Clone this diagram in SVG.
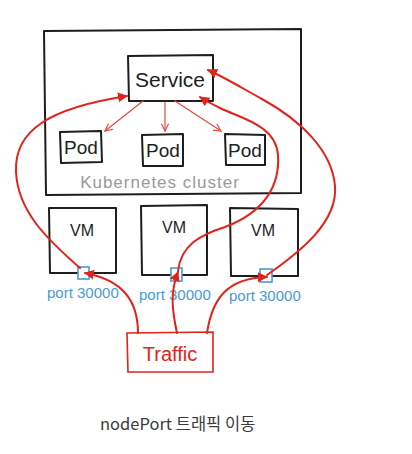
<svg xmlns="http://www.w3.org/2000/svg" width="412" height="454" viewBox="0 0 412 454">
<style>
.box{fill:none;stroke:#1e1e1e;stroke-width:2;stroke-linejoin:round}
.lbl{font-family:"Liberation Sans","DejaVu Sans",sans-serif;fill:#1e1e1e;text-anchor:middle}
.port{fill:#fff;stroke:#4a9ad8;stroke-width:1.6}
.ptxt{font-family:"Liberation Sans","DejaVu Sans",sans-serif;font-size:15px;fill:#4a9ad8}
.flow{fill:none;stroke:#e2231a;stroke-width:2;stroke-linecap:round}
.fan{fill:none;stroke:#e8473d;stroke-width:1.2;stroke-linecap:round}
</style>
<defs>
<marker id="ah" viewBox="0 0 10 10" refX="9" refY="5" markerWidth="10" markerHeight="10" markerUnits="userSpaceOnUse" orient="auto">
<path d="M0,0 L10,5 L0,10 z" fill="#e2231a"/>
</marker>
<marker id="ao" viewBox="0 0 10 10" refX="9" refY="5" markerWidth="9" markerHeight="9" markerUnits="userSpaceOnUse" orient="auto">
<path d="M1,1 L9,5 L1,9" fill="none" stroke="#e8473d" stroke-width="1.3"/>
</marker>
</defs>
<rect width="412" height="454" fill="#fff"/>
<g id="cluster">
<path class="box" d="M44,31 L301,29 L301,193 L46,195 Z"/>
<text x="160" y="188" font-family="Liberation Sans, DejaVu Sans, sans-serif" font-size="17" letter-spacing="1" fill="#9a9a9a" text-anchor="middle">Kubernetes cluster</text>
</g>
<g id="service">
<path class="box" d="M128,56 L213,55 L213,101 L129,101 Z"/>
<text class="lbl" x="170" y="87" font-size="21">Service</text>
</g>
<g id="pod1">
<path class="box" d="M60,132 L101,131 L102,162 L61,163 Z"/>
<text class="lbl" x="81" y="154" font-size="19">Pod</text>
</g>
<g id="pod2">
<path class="box" d="M142,135 L183,134 L183,166 L143,166 Z"/>
<text class="lbl" x="163" y="157" font-size="19">Pod</text>
</g>
<g id="pod3">
<path class="box" d="M225,134 L265,135 L265,165 L226,165 Z"/>
<text class="lbl" x="245" y="157" font-size="19">Pod</text>
</g>
<g id="vm1">
<path class="box" d="M49,208 L116,208 L116,273 L50,273 Z"/>
<text class="lbl" x="82" y="236" font-size="16">VM</text>
<rect class="port" x="78" y="267" width="11" height="12"/>
<text class="ptxt" x="47" y="298">port 30000</text>
</g>
<g id="vm2">
<path class="box" d="M141,206 L207,205 L207,275 L142,275 Z"/>
<text class="lbl" x="174" y="233" font-size="16">VM</text>
<rect class="port" x="171" y="268" width="11" height="13"/>
<text class="ptxt" x="139" y="300">port 30000</text>
</g>
<g id="vm3">
<path class="box" d="M230,208 L298,209 L298,276 L231,276 Z"/>
<text class="lbl" x="263" y="236" font-size="16">VM</text>
<rect class="port" x="260" y="269" width="12" height="13"/>
<text class="ptxt" x="229" y="301">port 30000</text>
</g>
<g id="traffic">
<path d="M127,333 L213,332 L213,372 L128,372 Z" fill="none" stroke="#e2231a" stroke-width="1.6"/>
<text x="170" y="361" font-family="Liberation Sans, DejaVu Sans, sans-serif" font-size="20" fill="#e2231a" text-anchor="middle">Traffic</text>
</g>
<g id="connectors">
<path class="fan" d="M143,101 L105,131" marker-end="url(#ao)"/>
<path class="fan" d="M165,102 L165,131" marker-end="url(#ao)"/>
<path class="fan" d="M175,101 L221,131" marker-end="url(#ao)"/>
<path class="flow" d="M138,333 C138,300 122,280 85,273" marker-end="url(#ah)"/>
<path class="flow" d="M177,333 C172,310 170,292 178,272" marker-end="url(#ah)"/>
<path class="flow" d="M207,333 C212,300 226,278 267,277" marker-end="url(#ah)"/>
<path class="flow" d="M80,268 C48,240 18,212 16,172 C14,130 50,108 127,96" marker-end="url(#ah)"/>
<path class="flow" d="M178,271 C181,245 200,235 225,227 C265,212 280,185 278,155 C276,125 240,118 220,108 C212,104 206,101 200,97" marker-end="url(#ah)"/>
<path class="flow" d="M267,275 C300,252 338,222 335,186 C332,150 300,120 262,99 C242,88 224,77 208,70" marker-end="url(#ah)"/>
</g>
<text x="100" y="430" font-family="'Noto Sans CJK KR','Noto Sans',sans-serif" font-size="16.5" fill="#3c3c3c">nodePort 트래픽 이동</text>
</svg>
